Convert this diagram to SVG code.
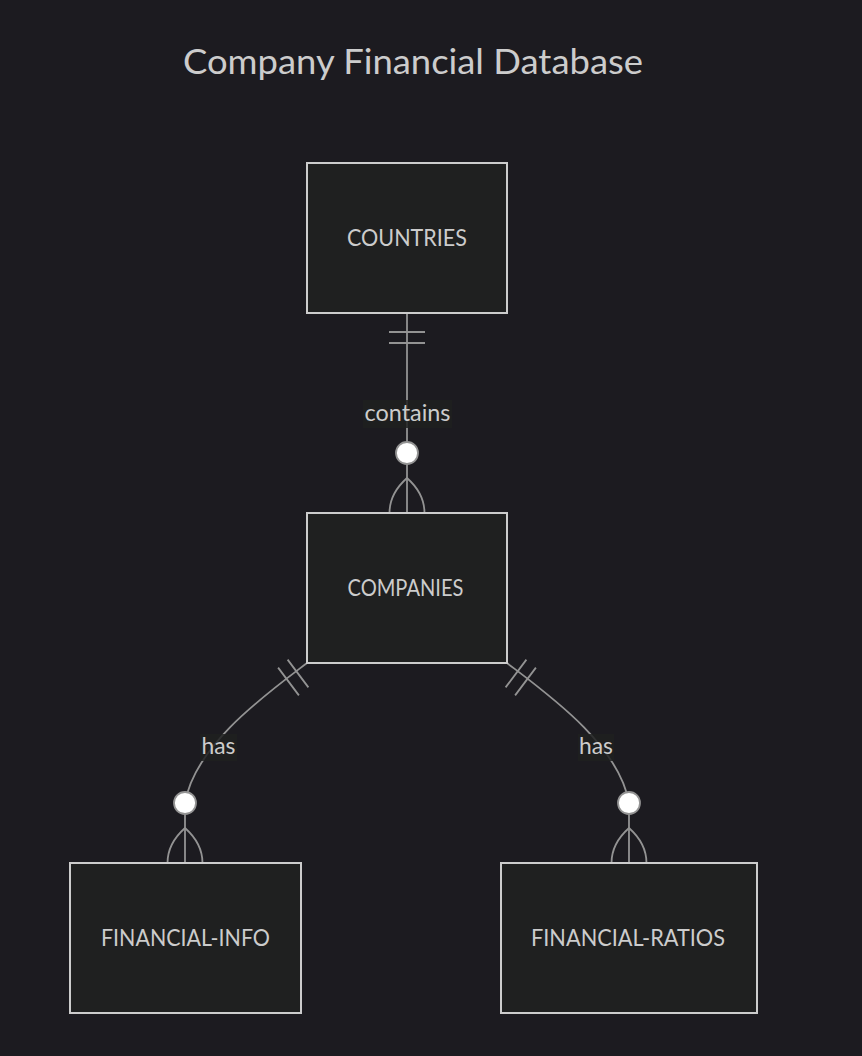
<svg xmlns="http://www.w3.org/2000/svg" width="862" height="1056" viewBox="0 0 862 1056">
<style>
.bg{fill:#1c1b20}
.entity rect{fill:#1f2020;stroke:#cccccc;stroke-width:2}
.entity text{fill:#cccccc;font-family:"Trebuchet MS","Lato","DejaVu Sans",sans-serif;font-size:23px;text-anchor:middle}
.title{fill:#cccccc;font-family:"Trebuchet MS","Lato","DejaVu Sans",sans-serif;font-size:34px;text-anchor:middle}
.rel{fill:none;stroke:#939393;stroke-width:1.8}
.circ{fill:#ffffff;stroke:#939393;stroke-width:1.8}
.lbl rect{fill:#1f2020;opacity:0.85}
.lbl text{fill:#cccccc;font-family:"Trebuchet MS","Lato","DejaVu Sans",sans-serif;font-size:23px;text-anchor:middle}
</style>
<rect class="bg" x="0" y="0" width="862" height="1056"/>
<text class="title" x="413" y="74" textLength="460" lengthAdjust="spacingAndGlyphs">Company Financial Database</text>

<g id="connectors">
  <g id="rel-countries-companies">
    <path class="rel" d="M407,313 L407,513"/>
    <path class="rel" d="M389,332 L425,332 M389,343 L425,343"/>
    <circle class="circ" cx="407" cy="453" r="11"/>
    <path class="rel" d="M389.5,513 C389.5,498 398,486 407,478 C416,486 424.5,498 424.5,513"/>
  </g>
  <g id="rel-companies-info">
    <path class="rel" d="M307,663 C265,695 195,745 185,803 L185,863"/>
    <path class="rel" d="M287.6,659.6 L308.4,687.4 M278.1,667.6 L298.9,695.4"/>
    <circle class="circ" cx="185" cy="803" r="11"/>
    <path class="rel" d="M167.5,863 C167.5,848 176,836 185,828 C194,836 202.5,848 202.5,863"/>
  </g>
  <g id="rel-companies-ratios">
    <path class="rel" d="M507,663 C549,695 619,745 629,803 L629,863"/>
    <path class="rel" d="M526.4,659.6 L505.6,687.4 M535.9,667.6 L515.1,695.4"/>
    <circle class="circ" cx="629" cy="803" r="11"/>
    <path class="rel" d="M611.5,863 C611.5,848 620,836 629,828 C638,836 646.5,848 646.5,863"/>
  </g>
  <g class="lbl" id="label-contains">
    <rect x="363" y="400" width="89" height="28"/>
    <text x="407.5" y="421" textLength="86" lengthAdjust="spacingAndGlyphs">contains</text>
  </g>
  <g class="lbl" id="label-has-1">
    <rect x="200" y="734" width="37" height="27"/>
    <text x="218.5" y="754" textLength="34" lengthAdjust="spacingAndGlyphs">has</text>
  </g>
  <g class="lbl" id="label-has-2">
    <rect x="578" y="734" width="36" height="27"/>
    <text x="596" y="754" textLength="34" lengthAdjust="spacingAndGlyphs">has</text>
  </g>
</g>

<g id="COUNTRIES" class="entity">
  <rect x="307" y="163" width="200" height="150"/>
  <text x="407" y="246" textLength="120" lengthAdjust="spacingAndGlyphs">COUNTRIES</text>
</g>
<g id="COMPANIES" class="entity">
  <rect x="307" y="513" width="200" height="150"/>
  <text x="405.5" y="596" textLength="116" lengthAdjust="spacingAndGlyphs">COMPANIES</text>
</g>
<g id="FINANCIAL-INFO" class="entity">
  <rect x="70" y="863" width="231" height="150"/>
  <text x="185.5" y="946" textLength="169" lengthAdjust="spacingAndGlyphs">FINANCIAL-INFO</text>
</g>
<g id="FINANCIAL-RATIOS" class="entity">
  <rect x="501" y="863" width="256" height="150"/>
  <text x="628" y="946" textLength="194" lengthAdjust="spacingAndGlyphs">FINANCIAL-RATIOS</text>
</g>
</svg>
